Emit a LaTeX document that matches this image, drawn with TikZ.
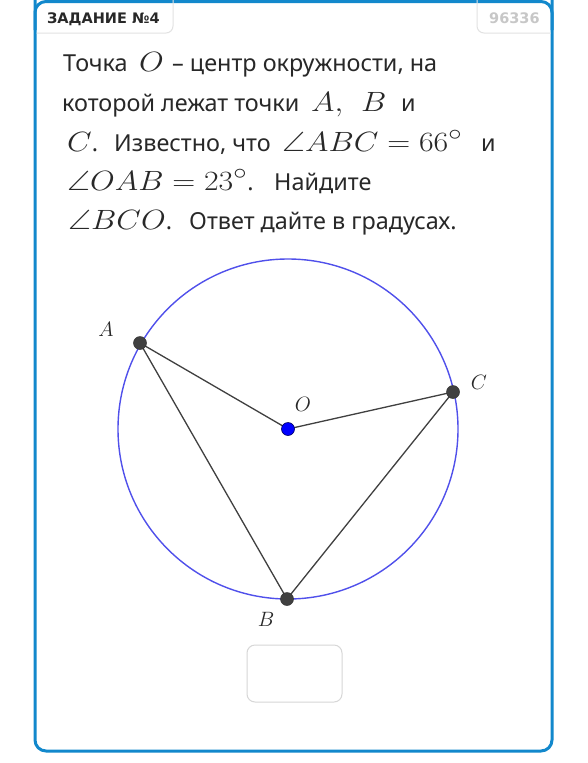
\documentclass[tikz,border=0pt]{standalone}
\usepackage{fontspec}
\setmainfont{Noto Sans}
\newfontfamily\hdrfont{DejaVu Sans}
\usepackage{amssymb}
\usepackage{graphicx}
\definecolor{frameblue}{RGB}{18,136,204}
\definecolor{circblue}{RGB}{80,80,235}
\definecolor{ptgrey}{RGB}{64,64,64}
\definecolor{txt}{RGB}{40,40,40}
\definecolor{tabline}{RGB}{226,226,226}
\definecolor{boxline}{RGB}{215,215,215}
\newcommand{\M}[1]{\scalebox{1.28}[1.12]{\fontsize{24.88}{28}\selectfont$#1$}}
\tikzset{
  line/.style={anchor=base west, inner sep=0pt, text=txt, font=\fontsize{23.4}{26}\selectfont},
  seg/.style={draw=ptgrey, line width=1.3pt},
  pt/.style={circle, fill=ptgrey, draw=black!80, line width=0.5pt, minimum size=13pt, inner sep=0pt},
  lab/.style={text=txt, inner sep=0pt, font=\fontsize{20.74}{24}\selectfont},
  hdr/.style={anchor=base west, inner sep=0pt, font=\hdrfont\bfseries\fontsize{14.5}{16}\selectfont},
}
\begin{document}
\begin{tikzpicture}[x=1pt,y=-1pt]
\useasboundingbox (0,0) rectangle (588,763);
\fill[white] (0,0) rectangle (588,763);
% frame
\draw[frameblue, line width=3pt, rounded corners=11pt] (35,-20) -- (35,751) -- (552,751) -- (552,-20);
\draw[frameblue, line width=3pt, rounded corners=11pt] (35,30) -- (35,1.5) -- (552,1.5) -- (552,30);
% tabs
\draw[tabline, line width=1pt, rounded corners=7pt] (36.5,33) -- (173,33) -- (173,-5);
\node[hdr, text=txt] (tab1) at (47,23.5) {ЗАДАНИЕ №4};
\draw[tabline, line width=1pt, rounded corners=7pt] (550.5,33) -- (477,33) -- (477,-5);
\node[hdr, text=black!22] (tab2) at (489,23.5) {96336};
% text, line 1
\node[line] (l1a) at (63,71) {Точка};
\node[line] (l1b) at (139,71) {\M{O}};
\node[line] (l1c) at (172,71) {– центр окружности, на};
% line 2
\node[line] (l2a) at (62,111) {которой лежат точки};
\node[line] (l2b) at (311,111) {\M{A,}};
\node[line] (l2c) at (361,111) {\M{B}};
\node[line] (l2d) at (401,111) {и};
% line 3
\node[line] (l3a) at (67,151) {\M{C}.};
\node[line] (l3b) at (114,151) {Известно, что};
\node[line] (l3c) at (282,151) {\M{\angle ABC=66^\circ}};
\node[line] (l3d) at (481,151) {и};
% line 4
\node[line] (l4a) at (67,190) {\M{\angle OAB=23^\circ}.};
\node[line] (l4b) at (274,190) {Найдите};
% line 5
\node[line] (l5a) at (68,229) {\M{\angle BCO}.};
\node[line] (l5b) at (189,229) {Ответ дайте в градусах.};
% circle
\coordinate (O) at (288,429);
\draw[circblue, line width=1.4pt] (O) circle[radius=170];
\coordinate (A) at (140,343);
\coordinate (B) at (287,599);
\coordinate (C) at (453,392);
\draw[seg] (A) -- (O) -- (C) -- (B) -- (A);
\node[pt] (pA) at (A) {};
\node[pt] (pB) at (B) {};
\node[pt] (pC) at (C) {};
\node[circle, fill=blue, draw=blue!40!black, line width=0.6pt, minimum size=13pt, inner sep=0pt] (pO) at (O) {};
\node[lab] (lA) at (106,329) {$A$};
\node[lab] (lB) at (266,619) {$B$};
\node[lab] (lC) at (479,382) {$C$};
\node[lab] (lO) at (303,404) {$O$};
% answer box
\draw[boxline, line width=1pt, rounded corners=8pt] (247,645) rectangle (342,702);
\end{tikzpicture}
\end{document}
